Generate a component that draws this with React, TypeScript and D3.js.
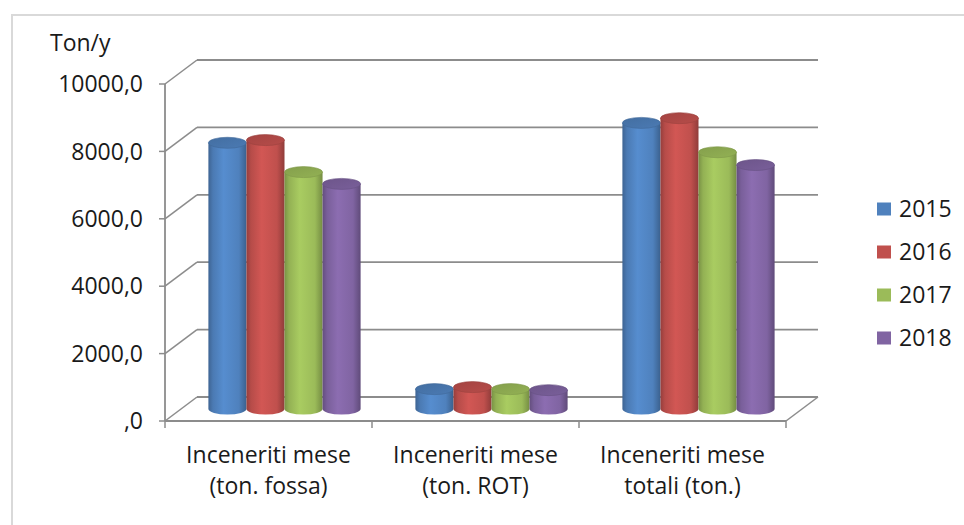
import React from "react";
import * as d3 from "d3";

const categories = [
  ["Inceneriti mese", "(ton. fossa)"],
  ["Inceneriti mese", "(ton. ROT)"],
  ["Inceneriti mese", "totali (ton.)"],
];
const years = ["2015", "2016", "2017", "2018"];
const colors = ["#4F81BD", "#C0504D", "#9BBB59", "#8064A2"];
// values per year, in category order
const v2015 = [7900, 590, 8490];
const v2016 = [7980, 650, 8630];
const v2017 = [7030, 590, 7620];
const v2018 = [6680, 560, 7240];
const yTicks = [0, 2000, 4000, 6000, 8000, 10000];
const yUnit = "Ton/y";

const series = [v2015, v2016, v2017, v2018];

const W = 964;
const H = 525;
const FONT = "'Open Sans', sans-serif";

// plot geometry (front plane + depth offset)
const X0 = 165;
const X1 = 786;
const DX = 32;
const DY = -24;
const RY = 5.5;

const fmt = (v: number) => {
  const s = d3.format(".1f")(v).replace(".", ",");
  return v === 0 ? s.replace(/^0/, "") : s;
};

export default function App() {
  const y = d3.scaleLinear().domain([0, 10000]).range([421, 84]);
  const catIdx = categories.map((_, i) => String(i));
  const x = d3.scaleBand().domain(catIdx).range([X0, X1]).paddingInner(0).paddingOuter(0);
  const xs = d3
    .scaleBand()
    .domain(years)
    .range([0, x.bandwidth()])
    .paddingInner(0)
    .paddingOuter(0.72);

  const midDX = DX / 2;
  const midDY = DY / 2;
  const grid = "#8c8c8c";

  return (
    <svg
      width={W}
      height={H}
      style={{ position: "absolute", left: 0, top: 0, background: "#fff" }}
      fontFamily={FONT}
    >
      <defs>
        {colors.map((c, i) => {
          const base = d3.color(c)!;
          return (
            <linearGradient id={`cyl${i}`} key={i} x1="0" x2="1" y1="0" y2="0">
              <stop offset="0" stopColor={base.darker(0.7).formatHex()} />
              <stop offset="0.12" stopColor={base.darker(0.15).formatHex()} />
              <stop offset="0.4" stopColor={base.brighter(0.25).formatHex()} />
              <stop offset="0.8" stopColor={base.formatHex()} />
              <stop offset="1" stopColor={base.darker(0.8).formatHex()} />
            </linearGradient>
          );
        })}
        {colors.map((c, i) => {
          const base = d3.color(c)!;
          return (
            <linearGradient id={`top${i}`} key={i} x1="0" x2="1" y1="0" y2="1">
              <stop offset="0" stopColor={base.darker(0.45).formatHex()} />
              <stop offset="1" stopColor={base.darker(0.15).formatHex()} />
            </linearGradient>
          );
        })}
      </defs>

      {/* outer frame */}
      <rect x={12} y={15} width={W} height={H} fill="none" stroke="#d9d9d9" strokeWidth={2} />

      {/* back wall gridlines and side wall diagonals */}
      {yTicks.map((t) => (
        <g key={t}>
          <line x1={X0 + DX} x2={X1 + DX} y1={y(t) + DY} y2={y(t) + DY} stroke={grid} strokeWidth={1.8} />
          <line x1={X0} x2={X0 + DX} y1={y(t)} y2={y(t) + DY} stroke={grid} strokeWidth={1.5} />
          <line x1={X0 - 6} x2={X0} y1={y(t)} y2={y(t)} stroke={grid} strokeWidth={1.5} />
          <text
            x={143}
            y={y(t)}
            dy="0.36em"
            textAnchor="end"
            fontSize={23}
            fill="#1a1a1a"
          >
            {fmt(t)}
          </text>
        </g>
      ))}

      {/* vertical axis */}
      <line x1={X0} x2={X0} y1={y(10000)} y2={y(0)} stroke={grid} strokeWidth={1.8} />

      {/* floor */}
      <line x1={X0} x2={X1} y1={y(0)} y2={y(0)} stroke={grid} strokeWidth={1.8} />
      <line x1={X1} x2={X1 + DX} y1={y(0)} y2={y(0) + DY} stroke={grid} strokeWidth={1.5} />
      {[...catIdx.map((c) => x(c)!), X1].map((px, i) => (
        <line key={i} x1={px} x2={px} y1={y(0)} y2={y(0) + 7} stroke={grid} strokeWidth={1.5} />
      ))}

      {/* cylinders */}
      {catIdx.map((c, ci) =>
        years.map((yr, si) => {
          const v = series[si][ci];
          const left = x(c)! + xs(yr)! + midDX;
          const w = xs.bandwidth();
          const rx = w / 2;
          const yb = y(0) + midDY;
          const yt = y(v) + midDY;
          const d = `M${left},${yt} L${left},${yb} A${rx},${RY} 0 0 0 ${left + w},${yb} L${left + w},${yt} Z`;
          const base = d3.color(colors[si])!;
          return (
            <g key={`${ci}-${si}`}>
              <path d={d} fill={`url(#cyl${si})`} />
              <ellipse
                cx={left + rx}
                cy={yt}
                rx={rx}
                ry={RY}
                fill={`url(#top${si})`}
                stroke={base.darker(0.6).formatHex()}
                strokeWidth={0.6}
              />
            </g>
          );
        })
      )}

      {/* category labels */}
      {categories.map((lines, ci) => (
        <text
          key={ci}
          x={x(String(ci))! + x.bandwidth() / 2}
          y={463}
          textAnchor="middle"
          fontSize={23}
          fill="#1a1a1a"
        >
          {lines.map((l, li) => (
            <tspan key={li} x={x(String(ci))! + x.bandwidth() / 2} dy={li === 0 ? 0 : 31}>
              {l}
            </tspan>
          ))}
        </text>
      ))}

      {/* unit label */}
      <text x={50} y={51} fontSize={23} fill="#1a1a1a">
        {yUnit}
      </text>

      {/* legend */}
      {years.map((yr, i) => (
        <g key={yr} transform={`translate(877, ${209 + i * 43})`}>
          <rect x={0} y={-6.5} width={14} height={13} fill={colors[i]} />
          <text x={22} y={0} dy="0.36em" fontSize={23} fill="#1a1a1a">
            {yr}
          </text>
        </g>
      ))}
    </svg>
  );
}
